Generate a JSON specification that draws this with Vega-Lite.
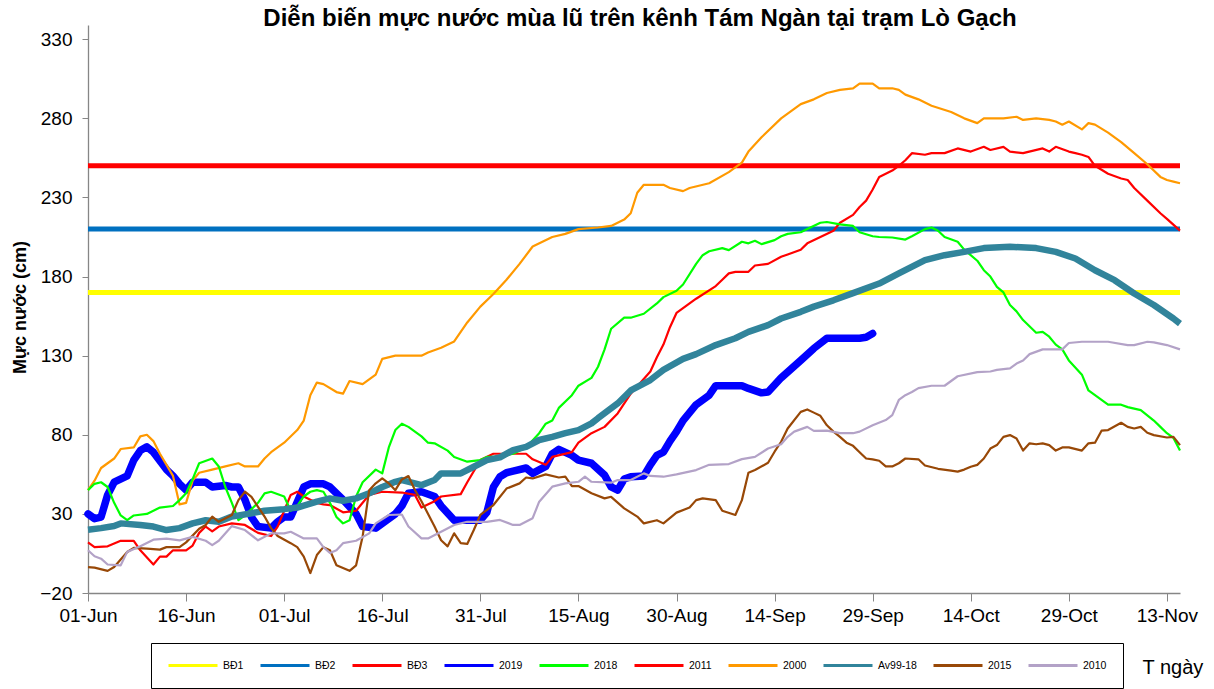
{
"$schema": "https://vega.github.io/schema/vega-lite/v6.json",
"width": 1092, "height": 568,
"autosize": {"type": "none"},
"padding": {"left": 88, "top": 25, "right": 34, "bottom": 96},
"background": "white",
"title": {"text": "Diễn biến mực nước mùa lũ trên kênh Tám Ngàn tại trạm Lò Gạch", "fontSize": 24, "fontWeight": "bold", "font": "Liberation Sans", "color": "black", "anchor": "middle", "dx": 6, "dy": 23, "baseline": "alphabetic", "offset": -2},
"config": {"view": {"stroke": null}},
"data": {"values": [
{"s":"BĐ1","t":"2019-06-01","v":170},{"s":"BĐ1","t":"2019-11-15","v":170},
{"s":"BĐ2","t":"2019-06-01","v":210},{"s":"BĐ2","t":"2019-11-15","v":210},
{"s":"BĐ3","t":"2019-06-01","v":250},{"s":"BĐ3","t":"2019-11-15","v":250},
{"s":"2000","t":"2019-06-01","v":45},{"s":"2000","t":"2019-06-02","v":51},{"s":"2000","t":"2019-06-03","v":59},{"s":"2000","t":"2019-06-05","v":65},{"s":"2000","t":"2019-06-06","v":71},{"s":"2000","t":"2019-06-08","v":72},{"s":"2000","t":"2019-06-09","v":79},{"s":"2000","t":"2019-06-10","v":80},{"s":"2000","t":"2019-06-11","v":76},{"s":"2000","t":"2019-06-12","v":68},{"s":"2000","t":"2019-06-14","v":54},{"s":"2000","t":"2019-06-15","v":36},{"s":"2000","t":"2019-06-16","v":37},{"s":"2000","t":"2019-06-17","v":51},{"s":"2000","t":"2019-06-18","v":56},{"s":"2000","t":"2019-06-20","v":58},{"s":"2000","t":"2019-06-22","v":60},{"s":"2000","t":"2019-06-24","v":62},{"s":"2000","t":"2019-06-25","v":60},{"s":"2000","t":"2019-06-27","v":60},{"s":"2000","t":"2019-06-28","v":65},{"s":"2000","t":"2019-06-29","v":69},{"s":"2000","t":"2019-07-01","v":75},{"s":"2000","t":"2019-07-03","v":83},{"s":"2000","t":"2019-07-04","v":89},{"s":"2000","t":"2019-07-05","v":105},{"s":"2000","t":"2019-07-06","v":113},{"s":"2000","t":"2019-07-07","v":112},{"s":"2000","t":"2019-07-09","v":107},{"s":"2000","t":"2019-07-10","v":106},{"s":"2000","t":"2019-07-11","v":114},{"s":"2000","t":"2019-07-13","v":112},{"s":"2000","t":"2019-07-15","v":118},{"s":"2000","t":"2019-07-16","v":128},{"s":"2000","t":"2019-07-18","v":130},{"s":"2000","t":"2019-07-22","v":130},{"s":"2000","t":"2019-07-23","v":132},{"s":"2000","t":"2019-07-25","v":135},{"s":"2000","t":"2019-07-27","v":139},{"s":"2000","t":"2019-07-29","v":151},{"s":"2000","t":"2019-07-31","v":161},{"s":"2000","t":"2019-08-02","v":169},{"s":"2000","t":"2019-08-04","v":178},{"s":"2000","t":"2019-08-06","v":188},{"s":"2000","t":"2019-08-08","v":199},{"s":"2000","t":"2019-08-11","v":205},{"s":"2000","t":"2019-08-13","v":207},{"s":"2000","t":"2019-08-15","v":210},{"s":"2000","t":"2019-08-18","v":211},{"s":"2000","t":"2019-08-20","v":212},{"s":"2000","t":"2019-08-22","v":216},{"s":"2000","t":"2019-08-23","v":220},{"s":"2000","t":"2019-08-24","v":233},{"s":"2000","t":"2019-08-25","v":238},{"s":"2000","t":"2019-08-28","v":238},{"s":"2000","t":"2019-08-29","v":236},{"s":"2000","t":"2019-08-31","v":234},{"s":"2000","t":"2019-09-01","v":236},{"s":"2000","t":"2019-09-04","v":239},{"s":"2000","t":"2019-09-07","v":246},{"s":"2000","t":"2019-09-09","v":252},{"s":"2000","t":"2019-09-10","v":259},{"s":"2000","t":"2019-09-12","v":268},{"s":"2000","t":"2019-09-15","v":280},{"s":"2000","t":"2019-09-18","v":289},{"s":"2000","t":"2019-09-20","v":292},{"s":"2000","t":"2019-09-22","v":296},{"s":"2000","t":"2019-09-24","v":298},{"s":"2000","t":"2019-09-26","v":299},{"s":"2000","t":"2019-09-27","v":302},{"s":"2000","t":"2019-09-29","v":302},{"s":"2000","t":"2019-09-30","v":299},{"s":"2000","t":"2019-10-02","v":299},{"s":"2000","t":"2019-10-03","v":298},{"s":"2000","t":"2019-10-04","v":295},{"s":"2000","t":"2019-10-06","v":292},{"s":"2000","t":"2019-10-08","v":288},{"s":"2000","t":"2019-10-11","v":284},{"s":"2000","t":"2019-10-13","v":280},{"s":"2000","t":"2019-10-15","v":277},{"s":"2000","t":"2019-10-16","v":280},{"s":"2000","t":"2019-10-19","v":280},{"s":"2000","t":"2019-10-21","v":281},{"s":"2000","t":"2019-10-22","v":279},{"s":"2000","t":"2019-10-24","v":280},{"s":"2000","t":"2019-10-26","v":279},{"s":"2000","t":"2019-10-27","v":278},{"s":"2000","t":"2019-10-28","v":276},{"s":"2000","t":"2019-10-29","v":278},{"s":"2000","t":"2019-10-31","v":273},{"s":"2000","t":"2019-11-01","v":277},{"s":"2000","t":"2019-11-02","v":276},{"s":"2000","t":"2019-11-04","v":271},{"s":"2000","t":"2019-11-06","v":265},{"s":"2000","t":"2019-11-08","v":258},{"s":"2000","t":"2019-11-10","v":251},{"s":"2000","t":"2019-11-12","v":243},{"s":"2000","t":"2019-11-13","v":241},{"s":"2000","t":"2019-11-14","v":240},{"s":"2000","t":"2019-11-15","v":239},
{"s":"2011","t":"2019-06-01","v":12},{"s":"2011","t":"2019-06-02","v":9},{"s":"2011","t":"2019-06-04","v":9.5},{"s":"2011","t":"2019-06-06","v":13},{"s":"2011","t":"2019-06-08","v":13},{"s":"2011","t":"2019-06-09","v":7},{"s":"2011","t":"2019-06-11","v":-2},{"s":"2011","t":"2019-06-12","v":3},{"s":"2011","t":"2019-06-13","v":3},{"s":"2011","t":"2019-06-14","v":7},{"s":"2011","t":"2019-06-16","v":7},{"s":"2011","t":"2019-06-17","v":10},{"s":"2011","t":"2019-06-18","v":18},{"s":"2011","t":"2019-06-19","v":22},{"s":"2011","t":"2019-06-20","v":19},{"s":"2011","t":"2019-06-21","v":22},{"s":"2011","t":"2019-06-23","v":24},{"s":"2011","t":"2019-06-25","v":23},{"s":"2011","t":"2019-06-27","v":18},{"s":"2011","t":"2019-06-29","v":16},{"s":"2011","t":"2019-06-30","v":22},{"s":"2011","t":"2019-07-02","v":42},{"s":"2011","t":"2019-07-03","v":44},{"s":"2011","t":"2019-07-04","v":41},{"s":"2011","t":"2019-07-05","v":39},{"s":"2011","t":"2019-07-06","v":37},{"s":"2011","t":"2019-07-07","v":36},{"s":"2011","t":"2019-07-08","v":35.6},{"s":"2011","t":"2019-07-10","v":31},{"s":"2011","t":"2019-07-12","v":32},{"s":"2011","t":"2019-07-13","v":37},{"s":"2011","t":"2019-07-14","v":42},{"s":"2011","t":"2019-07-16","v":44},{"s":"2011","t":"2019-07-19","v":43.5},{"s":"2011","t":"2019-07-21","v":42},{"s":"2011","t":"2019-07-22","v":34},{"s":"2011","t":"2019-07-24","v":38},{"s":"2011","t":"2019-07-25","v":41},{"s":"2011","t":"2019-07-28","v":42.5},{"s":"2011","t":"2019-07-29","v":50},{"s":"2011","t":"2019-07-31","v":64},{"s":"2011","t":"2019-08-02","v":68},{"s":"2011","t":"2019-08-04","v":68},{"s":"2011","t":"2019-08-07","v":68},{"s":"2011","t":"2019-08-08","v":64.5},{"s":"2011","t":"2019-08-10","v":61},{"s":"2011","t":"2019-08-11","v":66},{"s":"2011","t":"2019-08-14","v":69},{"s":"2011","t":"2019-08-15","v":75},{"s":"2011","t":"2019-08-17","v":81},{"s":"2011","t":"2019-08-19","v":85},{"s":"2011","t":"2019-08-21","v":93.5},{"s":"2011","t":"2019-08-23","v":106},{"s":"2011","t":"2019-08-26","v":120},{"s":"2011","t":"2019-08-27","v":129},{"s":"2011","t":"2019-08-28","v":137},{"s":"2011","t":"2019-08-29","v":148},{"s":"2011","t":"2019-08-30","v":157},{"s":"2011","t":"2019-09-01","v":163},{"s":"2011","t":"2019-09-02","v":166},{"s":"2011","t":"2019-09-05","v":174},{"s":"2011","t":"2019-09-06","v":178},{"s":"2011","t":"2019-09-07","v":182},{"s":"2011","t":"2019-09-08","v":183},{"s":"2011","t":"2019-09-10","v":183},{"s":"2011","t":"2019-09-11","v":187},{"s":"2011","t":"2019-09-13","v":188},{"s":"2011","t":"2019-09-15","v":192.5},{"s":"2011","t":"2019-09-16","v":194},{"s":"2011","t":"2019-09-18","v":197},{"s":"2011","t":"2019-09-19","v":201},{"s":"2011","t":"2019-09-21","v":205},{"s":"2011","t":"2019-09-23","v":209},{"s":"2011","t":"2019-09-24","v":214},{"s":"2011","t":"2019-09-26","v":219},{"s":"2011","t":"2019-09-27","v":224},{"s":"2011","t":"2019-09-28","v":228},{"s":"2011","t":"2019-09-29","v":235},{"s":"2011","t":"2019-09-30","v":243},{"s":"2011","t":"2019-10-02","v":247},{"s":"2011","t":"2019-10-03","v":250},{"s":"2011","t":"2019-10-04","v":253.5},{"s":"2011","t":"2019-10-05","v":258},{"s":"2011","t":"2019-10-07","v":257},{"s":"2011","t":"2019-10-08","v":258},{"s":"2011","t":"2019-10-10","v":258},{"s":"2011","t":"2019-10-12","v":261},{"s":"2011","t":"2019-10-14","v":259},{"s":"2011","t":"2019-10-16","v":262},{"s":"2011","t":"2019-10-17","v":260},{"s":"2011","t":"2019-10-19","v":262},{"s":"2011","t":"2019-10-20","v":259},{"s":"2011","t":"2019-10-22","v":258},{"s":"2011","t":"2019-10-25","v":261},{"s":"2011","t":"2019-10-26","v":259},{"s":"2011","t":"2019-10-27","v":262},{"s":"2011","t":"2019-10-29","v":259},{"s":"2011","t":"2019-10-30","v":258},{"s":"2011","t":"2019-10-31","v":257},{"s":"2011","t":"2019-11-01","v":255.6},{"s":"2011","t":"2019-11-02","v":250},{"s":"2011","t":"2019-11-04","v":245},{"s":"2011","t":"2019-11-06","v":242},{"s":"2011","t":"2019-11-07","v":241},{"s":"2011","t":"2019-11-08","v":236},{"s":"2011","t":"2019-11-10","v":228},{"s":"2011","t":"2019-11-12","v":220},{"s":"2011","t":"2019-11-13","v":216.5},{"s":"2011","t":"2019-11-15","v":209},
{"s":"2018","t":"2019-06-01","v":45},{"s":"2018","t":"2019-06-02","v":49},{"s":"2018","t":"2019-06-03","v":50},{"s":"2018","t":"2019-06-04","v":47},{"s":"2018","t":"2019-06-05","v":37},{"s":"2018","t":"2019-06-06","v":29},{"s":"2018","t":"2019-06-07","v":26},{"s":"2018","t":"2019-06-08","v":29},{"s":"2018","t":"2019-06-10","v":30},{"s":"2018","t":"2019-06-12","v":34},{"s":"2018","t":"2019-06-14","v":35},{"s":"2018","t":"2019-06-15","v":38.7},{"s":"2018","t":"2019-06-16","v":43},{"s":"2018","t":"2019-06-17","v":52},{"s":"2018","t":"2019-06-18","v":62},{"s":"2018","t":"2019-06-20","v":65},{"s":"2018","t":"2019-06-21","v":60},{"s":"2018","t":"2019-06-22","v":47},{"s":"2018","t":"2019-06-23","v":37},{"s":"2018","t":"2019-06-24","v":26},{"s":"2018","t":"2019-06-25","v":29},{"s":"2018","t":"2019-06-27","v":37},{"s":"2018","t":"2019-06-28","v":43},{"s":"2018","t":"2019-06-29","v":44},{"s":"2018","t":"2019-07-01","v":41},{"s":"2018","t":"2019-07-02","v":32},{"s":"2018","t":"2019-07-03","v":35},{"s":"2018","t":"2019-07-04","v":41},{"s":"2018","t":"2019-07-05","v":44},{"s":"2018","t":"2019-07-06","v":45},{"s":"2018","t":"2019-07-07","v":44},{"s":"2018","t":"2019-07-08","v":37},{"s":"2018","t":"2019-07-09","v":28},{"s":"2018","t":"2019-07-10","v":24},{"s":"2018","t":"2019-07-11","v":26},{"s":"2018","t":"2019-07-12","v":41},{"s":"2018","t":"2019-07-13","v":50},{"s":"2018","t":"2019-07-15","v":58},{"s":"2018","t":"2019-07-16","v":55.6},{"s":"2018","t":"2019-07-17","v":72},{"s":"2018","t":"2019-07-18","v":83},{"s":"2018","t":"2019-07-19","v":87},{"s":"2018","t":"2019-07-20","v":85},{"s":"2018","t":"2019-07-22","v":79},{"s":"2018","t":"2019-07-23","v":75},{"s":"2018","t":"2019-07-24","v":74.6},{"s":"2018","t":"2019-07-26","v":70},{"s":"2018","t":"2019-07-27","v":66},{"s":"2018","t":"2019-07-29","v":63},{"s":"2018","t":"2019-07-31","v":64},{"s":"2018","t":"2019-08-01","v":66},{"s":"2018","t":"2019-08-03","v":66},{"s":"2018","t":"2019-08-05","v":68},{"s":"2018","t":"2019-08-07","v":72},{"s":"2018","t":"2019-08-09","v":81},{"s":"2018","t":"2019-08-10","v":87},{"s":"2018","t":"2019-08-11","v":89},{"s":"2018","t":"2019-08-12","v":97},{"s":"2018","t":"2019-08-14","v":105},{"s":"2018","t":"2019-08-15","v":111},{"s":"2018","t":"2019-08-17","v":116},{"s":"2018","t":"2019-08-18","v":123},{"s":"2018","t":"2019-08-19","v":134},{"s":"2018","t":"2019-08-20","v":147},{"s":"2018","t":"2019-08-22","v":154},{"s":"2018","t":"2019-08-23","v":154},{"s":"2018","t":"2019-08-25","v":156.5},{"s":"2018","t":"2019-08-27","v":163},{"s":"2018","t":"2019-08-28","v":167},{"s":"2018","t":"2019-08-30","v":171},{"s":"2018","t":"2019-08-31","v":175},{"s":"2018","t":"2019-09-02","v":188},{"s":"2018","t":"2019-09-03","v":193.5},{"s":"2018","t":"2019-09-04","v":196},{"s":"2018","t":"2019-09-06","v":198},{"s":"2018","t":"2019-09-07","v":196.7},{"s":"2018","t":"2019-09-09","v":202},{"s":"2018","t":"2019-09-10","v":201},{"s":"2018","t":"2019-09-11","v":202.6},{"s":"2018","t":"2019-09-12","v":200.5},{"s":"2018","t":"2019-09-14","v":203},{"s":"2018","t":"2019-09-15","v":205.5},{"s":"2018","t":"2019-09-16","v":207},{"s":"2018","t":"2019-09-18","v":208},{"s":"2018","t":"2019-09-19","v":210},{"s":"2018","t":"2019-09-21","v":214},{"s":"2018","t":"2019-09-22","v":214.5},{"s":"2018","t":"2019-09-24","v":213},{"s":"2018","t":"2019-09-26","v":212},{"s":"2018","t":"2019-09-27","v":208},{"s":"2018","t":"2019-09-29","v":205.5},{"s":"2018","t":"2019-09-30","v":205},{"s":"2018","t":"2019-10-02","v":204.7},{"s":"2018","t":"2019-10-04","v":203.4},{"s":"2018","t":"2019-10-05","v":205.5},{"s":"2018","t":"2019-10-07","v":210},{"s":"2018","t":"2019-10-08","v":211},{"s":"2018","t":"2019-10-09","v":209},{"s":"2018","t":"2019-10-10","v":205},{"s":"2018","t":"2019-10-12","v":202},{"s":"2018","t":"2019-10-13","v":197},{"s":"2018","t":"2019-10-15","v":190},{"s":"2018","t":"2019-10-16","v":184},{"s":"2018","t":"2019-10-17","v":180},{"s":"2018","t":"2019-10-18","v":173.5},{"s":"2018","t":"2019-10-19","v":170},{"s":"2018","t":"2019-10-20","v":162},{"s":"2018","t":"2019-10-21","v":158},{"s":"2018","t":"2019-10-22","v":152.5},{"s":"2018","t":"2019-10-24","v":144.5},{"s":"2018","t":"2019-10-25","v":145},{"s":"2018","t":"2019-10-26","v":142},{"s":"2018","t":"2019-10-27","v":137},{"s":"2018","t":"2019-10-28","v":134},{"s":"2018","t":"2019-10-29","v":127},{"s":"2018","t":"2019-10-31","v":118},{"s":"2018","t":"2019-11-01","v":108},{"s":"2018","t":"2019-11-03","v":102},{"s":"2018","t":"2019-11-04","v":99},{"s":"2018","t":"2019-11-06","v":99},{"s":"2018","t":"2019-11-07","v":97.5},{"s":"2018","t":"2019-11-09","v":95.6},{"s":"2018","t":"2019-11-11","v":89},{"s":"2018","t":"2019-11-12","v":85},{"s":"2018","t":"2019-11-13","v":81},{"s":"2018","t":"2019-11-14","v":78},{"s":"2018","t":"2019-11-15","v":70},
{"s":"2019","t":"2019-06-01","v":30},{"s":"2019","t":"2019-06-02","v":27},{"s":"2019","t":"2019-06-03","v":28},{"s":"2019","t":"2019-06-04","v":42},{"s":"2019","t":"2019-06-05","v":50},{"s":"2019","t":"2019-06-07","v":54},{"s":"2019","t":"2019-06-08","v":64},{"s":"2019","t":"2019-06-09","v":70},{"s":"2019","t":"2019-06-10","v":72.4},{"s":"2019","t":"2019-06-11","v":69},{"s":"2019","t":"2019-06-13","v":58},{"s":"2019","t":"2019-06-14","v":54},{"s":"2019","t":"2019-06-15","v":49},{"s":"2019","t":"2019-06-16","v":45},{"s":"2019","t":"2019-06-17","v":50},{"s":"2019","t":"2019-06-19","v":50},{"s":"2019","t":"2019-06-20","v":47},{"s":"2019","t":"2019-06-22","v":48},{"s":"2019","t":"2019-06-23","v":47},{"s":"2019","t":"2019-06-24","v":47},{"s":"2019","t":"2019-06-25","v":39},{"s":"2019","t":"2019-06-26","v":28},{"s":"2019","t":"2019-06-27","v":22},{"s":"2019","t":"2019-06-29","v":21},{"s":"2019","t":"2019-06-30","v":25},{"s":"2019","t":"2019-07-01","v":28},{"s":"2019","t":"2019-07-02","v":28},{"s":"2019","t":"2019-07-04","v":47},{"s":"2019","t":"2019-07-05","v":49},{"s":"2019","t":"2019-07-07","v":49},{"s":"2019","t":"2019-07-08","v":47},{"s":"2019","t":"2019-07-10","v":39},{"s":"2019","t":"2019-07-12","v":30},{"s":"2019","t":"2019-07-13","v":22},{"s":"2019","t":"2019-07-15","v":21},{"s":"2019","t":"2019-07-16","v":24},{"s":"2019","t":"2019-07-18","v":30},{"s":"2019","t":"2019-07-19","v":35},{"s":"2019","t":"2019-07-20","v":43},{"s":"2019","t":"2019-07-22","v":44},{"s":"2019","t":"2019-07-24","v":41},{"s":"2019","t":"2019-07-25","v":35},{"s":"2019","t":"2019-07-27","v":26},{"s":"2019","t":"2019-07-29","v":26},{"s":"2019","t":"2019-07-31","v":26},{"s":"2019","t":"2019-08-01","v":31},{"s":"2019","t":"2019-08-02","v":47},{"s":"2019","t":"2019-08-03","v":53.5},{"s":"2019","t":"2019-08-04","v":56},{"s":"2019","t":"2019-08-05","v":57},{"s":"2019","t":"2019-08-07","v":59},{"s":"2019","t":"2019-08-08","v":55.6},{"s":"2019","t":"2019-08-10","v":60},{"s":"2019","t":"2019-08-11","v":68},{"s":"2019","t":"2019-08-12","v":70.8},{"s":"2019","t":"2019-08-14","v":67},{"s":"2019","t":"2019-08-15","v":64},{"s":"2019","t":"2019-08-17","v":62},{"s":"2019","t":"2019-08-19","v":54.5},{"s":"2019","t":"2019-08-20","v":47},{"s":"2019","t":"2019-08-21","v":45},{"s":"2019","t":"2019-08-22","v":52},{"s":"2019","t":"2019-08-23","v":53.5},{"s":"2019","t":"2019-08-25","v":54},{"s":"2019","t":"2019-08-26","v":61},{"s":"2019","t":"2019-08-27","v":67},{"s":"2019","t":"2019-08-28","v":69},{"s":"2019","t":"2019-08-29","v":76},{"s":"2019","t":"2019-08-30","v":82},{"s":"2019","t":"2019-08-31","v":89},{"s":"2019","t":"2019-09-01","v":94},{"s":"2019","t":"2019-09-02","v":99},{"s":"2019","t":"2019-09-04","v":105},{"s":"2019","t":"2019-09-05","v":111},{"s":"2019","t":"2019-09-09","v":111},{"s":"2019","t":"2019-09-10","v":109.3},{"s":"2019","t":"2019-09-12","v":106.5},{"s":"2019","t":"2019-09-13","v":107},{"s":"2019","t":"2019-09-15","v":116},{"s":"2019","t":"2019-09-18","v":127},{"s":"2019","t":"2019-09-20","v":134.6},{"s":"2019","t":"2019-09-22","v":141},{"s":"2019","t":"2019-09-25","v":141},{"s":"2019","t":"2019-09-27","v":141},{"s":"2019","t":"2019-09-28","v":141.6},{"s":"2019","t":"2019-09-29","v":144},
{"s":"Av99-18","t":"2019-06-01","v":20},{"s":"Av99-18","t":"2019-06-03","v":21},{"s":"Av99-18","t":"2019-06-05","v":22.3},{"s":"Av99-18","t":"2019-06-06","v":24},{"s":"Av99-18","t":"2019-06-09","v":23},{"s":"Av99-18","t":"2019-06-11","v":22},{"s":"Av99-18","t":"2019-06-13","v":19.8},{"s":"Av99-18","t":"2019-06-15","v":21},{"s":"Av99-18","t":"2019-06-17","v":24},{"s":"Av99-18","t":"2019-06-19","v":26},{"s":"Av99-18","t":"2019-06-21","v":25},{"s":"Av99-18","t":"2019-06-23","v":28.3},{"s":"Av99-18","t":"2019-06-26","v":30.4},{"s":"Av99-18","t":"2019-06-28","v":32},{"s":"Av99-18","t":"2019-07-01","v":33},{"s":"Av99-18","t":"2019-07-03","v":34},{"s":"Av99-18","t":"2019-07-06","v":37.7},{"s":"Av99-18","t":"2019-07-08","v":39.8},{"s":"Av99-18","t":"2019-07-10","v":38.3},{"s":"Av99-18","t":"2019-07-12","v":39.8},{"s":"Av99-18","t":"2019-07-14","v":43},{"s":"Av99-18","t":"2019-07-16","v":47},{"s":"Av99-18","t":"2019-07-18","v":50.3},{"s":"Av99-18","t":"2019-07-19","v":51.4},{"s":"Av99-18","t":"2019-07-21","v":49.3},{"s":"Av99-18","t":"2019-07-22","v":48.2},{"s":"Av99-18","t":"2019-07-24","v":51.4},{"s":"Av99-18","t":"2019-07-25","v":55.6},{"s":"Av99-18","t":"2019-07-28","v":55.6},{"s":"Av99-18","t":"2019-07-30","v":59.8},{"s":"Av99-18","t":"2019-08-01","v":64},{"s":"Av99-18","t":"2019-08-03","v":65.7},{"s":"Av99-18","t":"2019-08-05","v":70.3},{"s":"Av99-18","t":"2019-08-07","v":72.4},{"s":"Av99-18","t":"2019-08-09","v":76.7},{"s":"Av99-18","t":"2019-08-11","v":78.7},{"s":"Av99-18","t":"2019-08-13","v":81},{"s":"Av99-18","t":"2019-08-15","v":83},{"s":"Av99-18","t":"2019-08-17","v":87.2},{"s":"Av99-18","t":"2019-08-18","v":90.5},{"s":"Av99-18","t":"2019-08-21","v":99.8},{"s":"Av99-18","t":"2019-08-23","v":108},{"s":"Av99-18","t":"2019-08-26","v":114.6},{"s":"Av99-18","t":"2019-08-28","v":121},{"s":"Av99-18","t":"2019-08-31","v":128},{"s":"Av99-18","t":"2019-09-02","v":131},{"s":"Av99-18","t":"2019-09-05","v":136.7},{"s":"Av99-18","t":"2019-09-08","v":141},{"s":"Av99-18","t":"2019-09-10","v":145},{"s":"Av99-18","t":"2019-09-13","v":149.3},{"s":"Av99-18","t":"2019-09-15","v":153.5},{"s":"Av99-18","t":"2019-09-18","v":157.7},{"s":"Av99-18","t":"2019-09-20","v":161},{"s":"Av99-18","t":"2019-09-23","v":165},{"s":"Av99-18","t":"2019-09-26","v":169.5},{"s":"Av99-18","t":"2019-09-30","v":175.6},{"s":"Av99-18","t":"2019-10-03","v":182},{"s":"Av99-18","t":"2019-10-07","v":190.4},{"s":"Av99-18","t":"2019-10-10","v":193.5},{"s":"Av99-18","t":"2019-10-13","v":195.6},{"s":"Av99-18","t":"2019-10-16","v":198},{"s":"Av99-18","t":"2019-10-20","v":198.8},{"s":"Av99-18","t":"2019-10-24","v":198},{"s":"Av99-18","t":"2019-10-27","v":195.6},{"s":"Av99-18","t":"2019-10-30","v":191.4},{"s":"Av99-18","t":"2019-11-02","v":184},{"s":"Av99-18","t":"2019-11-05","v":177.7},{"s":"Av99-18","t":"2019-11-08","v":169.3},{"s":"Av99-18","t":"2019-11-11","v":162},{"s":"Av99-18","t":"2019-11-14","v":153.5},{"s":"Av99-18","t":"2019-11-15","v":150.3},
{"s":"2015","t":"2019-06-01","v":-3.6},{"s":"2015","t":"2019-06-02","v":-4},{"s":"2015","t":"2019-06-04","v":-6},{"s":"2015","t":"2019-06-05","v":-3.6},{"s":"2015","t":"2019-06-07","v":5.9},{"s":"2015","t":"2019-06-08","v":8.5},{"s":"2015","t":"2019-06-10","v":8},{"s":"2015","t":"2019-06-12","v":7.4},{"s":"2015","t":"2019-06-13","v":9},{"s":"2015","t":"2019-06-15","v":9},{"s":"2015","t":"2019-06-16","v":12},{"s":"2015","t":"2019-06-18","v":20.6},{"s":"2015","t":"2019-06-19","v":23},{"s":"2015","t":"2019-06-20","v":28.3},{"s":"2015","t":"2019-06-21","v":25},{"s":"2015","t":"2019-06-23","v":29.3},{"s":"2015","t":"2019-06-24","v":38.7},{"s":"2015","t":"2019-06-25","v":44},{"s":"2015","t":"2019-06-26","v":40.8},{"s":"2015","t":"2019-06-27","v":34.5},{"s":"2015","t":"2019-06-28","v":28.3},{"s":"2015","t":"2019-06-29","v":21},{"s":"2015","t":"2019-06-30","v":16},{"s":"2015","t":"2019-07-02","v":11.5},{"s":"2015","t":"2019-07-03","v":9},{"s":"2015","t":"2019-07-04","v":3},{"s":"2015","t":"2019-07-05","v":-7.4},{"s":"2015","t":"2019-07-06","v":4},{"s":"2015","t":"2019-07-07","v":9},{"s":"2015","t":"2019-07-08","v":7},{"s":"2015","t":"2019-07-09","v":-2.5},{"s":"2015","t":"2019-07-11","v":-6},{"s":"2015","t":"2019-07-12","v":-2.5},{"s":"2015","t":"2019-07-13","v":15.7},{"s":"2015","t":"2019-07-14","v":45},{"s":"2015","t":"2019-07-15","v":49.3},{"s":"2015","t":"2019-07-16","v":52.4},{"s":"2015","t":"2019-07-17","v":49.3},{"s":"2015","t":"2019-07-18","v":45},{"s":"2015","t":"2019-07-19","v":51.8},{"s":"2015","t":"2019-07-20","v":53.9},{"s":"2015","t":"2019-07-21","v":45},{"s":"2015","t":"2019-07-22","v":38},{"s":"2015","t":"2019-07-24","v":22},{"s":"2015","t":"2019-07-25","v":13.3},{"s":"2015","t":"2019-07-26","v":9.5},{"s":"2015","t":"2019-07-27","v":17.7},{"s":"2015","t":"2019-07-28","v":11.5},{"s":"2015","t":"2019-07-29","v":11},{"s":"2015","t":"2019-07-30","v":19.8},{"s":"2015","t":"2019-07-31","v":29.3},{"s":"2015","t":"2019-08-02","v":35.6},{"s":"2015","t":"2019-08-04","v":46},{"s":"2015","t":"2019-08-06","v":49.3},{"s":"2015","t":"2019-08-07","v":53},{"s":"2015","t":"2019-08-08","v":52.4},{"s":"2015","t":"2019-08-10","v":55},{"s":"2015","t":"2019-08-12","v":53},{"s":"2015","t":"2019-08-13","v":53.5},{"s":"2015","t":"2019-08-14","v":47.6},{"s":"2015","t":"2019-08-15","v":47.6},{"s":"2015","t":"2019-08-17","v":43},{"s":"2015","t":"2019-08-19","v":39.8},{"s":"2015","t":"2019-08-20","v":40.8},{"s":"2015","t":"2019-08-22","v":33.5},{"s":"2015","t":"2019-08-24","v":28.3},{"s":"2015","t":"2019-08-25","v":24},{"s":"2015","t":"2019-08-27","v":26},{"s":"2015","t":"2019-08-28","v":24},{"s":"2015","t":"2019-08-30","v":30.8},{"s":"2015","t":"2019-09-01","v":34},{"s":"2015","t":"2019-09-02","v":38.7},{"s":"2015","t":"2019-09-03","v":39.8},{"s":"2015","t":"2019-09-05","v":38.7},{"s":"2015","t":"2019-09-06","v":32},{"s":"2015","t":"2019-09-08","v":29.3},{"s":"2015","t":"2019-09-09","v":38.7},{"s":"2015","t":"2019-09-10","v":56},{"s":"2015","t":"2019-09-11","v":57.7},{"s":"2015","t":"2019-09-13","v":62.3},{"s":"2015","t":"2019-09-14","v":69.3},{"s":"2015","t":"2019-09-15","v":75.6},{"s":"2015","t":"2019-09-16","v":84},{"s":"2015","t":"2019-09-18","v":94.5},{"s":"2015","t":"2019-09-19","v":96},{"s":"2015","t":"2019-09-20","v":94},{"s":"2015","t":"2019-09-21","v":92},{"s":"2015","t":"2019-09-22","v":86},{"s":"2015","t":"2019-09-23","v":82},{"s":"2015","t":"2019-09-24","v":78.7},{"s":"2015","t":"2019-09-25","v":75},{"s":"2015","t":"2019-09-26","v":73},{"s":"2015","t":"2019-09-27","v":69},{"s":"2015","t":"2019-09-28","v":65},{"s":"2015","t":"2019-09-29","v":64.5},{"s":"2015","t":"2019-09-30","v":63.6},{"s":"2015","t":"2019-10-01","v":60},{"s":"2015","t":"2019-10-02","v":60},{"s":"2015","t":"2019-10-03","v":62},{"s":"2015","t":"2019-10-04","v":65},{"s":"2015","t":"2019-10-06","v":64.5},{"s":"2015","t":"2019-10-07","v":60.6},{"s":"2015","t":"2019-10-09","v":58.5},{"s":"2015","t":"2019-10-11","v":57.3},{"s":"2015","t":"2019-10-12","v":56.7},{"s":"2015","t":"2019-10-13","v":58},{"s":"2015","t":"2019-10-14","v":59.8},{"s":"2015","t":"2019-10-15","v":61},{"s":"2015","t":"2019-10-16","v":65},{"s":"2015","t":"2019-10-17","v":71.3},{"s":"2015","t":"2019-10-18","v":73.5},{"s":"2015","t":"2019-10-19","v":78.7},{"s":"2015","t":"2019-10-20","v":79.8},{"s":"2015","t":"2019-10-21","v":77.7},{"s":"2015","t":"2019-10-22","v":70},{"s":"2015","t":"2019-10-23","v":74.6},{"s":"2015","t":"2019-10-24","v":74},{"s":"2015","t":"2019-10-25","v":74.6},{"s":"2015","t":"2019-10-26","v":73.5},{"s":"2015","t":"2019-10-27","v":70},{"s":"2015","t":"2019-10-28","v":72},{"s":"2015","t":"2019-10-29","v":72},{"s":"2015","t":"2019-10-31","v":70},{"s":"2015","t":"2019-11-01","v":74.6},{"s":"2015","t":"2019-11-02","v":75},{"s":"2015","t":"2019-11-03","v":82.6},{"s":"2015","t":"2019-11-04","v":83},{"s":"2015","t":"2019-11-06","v":87.6},{"s":"2015","t":"2019-11-07","v":85},{"s":"2015","t":"2019-11-08","v":84},{"s":"2015","t":"2019-11-09","v":85},{"s":"2015","t":"2019-11-10","v":81.3},{"s":"2015","t":"2019-11-11","v":79.8},{"s":"2015","t":"2019-11-13","v":78.3},{"s":"2015","t":"2019-11-14","v":78.7},{"s":"2015","t":"2019-11-15","v":73.5},
{"s":"2010","t":"2019-06-01","v":7},{"s":"2010","t":"2019-06-02","v":3.2},{"s":"2010","t":"2019-06-03","v":1.7},{"s":"2010","t":"2019-06-04","v":-2},{"s":"2010","t":"2019-06-06","v":-2.5},{"s":"2010","t":"2019-06-07","v":6},{"s":"2010","t":"2019-06-09","v":9.5},{"s":"2010","t":"2019-06-11","v":13.7},{"s":"2010","t":"2019-06-13","v":14.4},{"s":"2010","t":"2019-06-15","v":13.3},{"s":"2010","t":"2019-06-17","v":15.5},{"s":"2010","t":"2019-06-19","v":13},{"s":"2010","t":"2019-06-20","v":10.3},{"s":"2010","t":"2019-06-21","v":13},{"s":"2010","t":"2019-06-23","v":22.3},{"s":"2010","t":"2019-06-25","v":19.8},{"s":"2010","t":"2019-06-27","v":13.3},{"s":"2010","t":"2019-06-29","v":17.7},{"s":"2010","t":"2019-07-01","v":17.7},{"s":"2010","t":"2019-07-02","v":18.7},{"s":"2010","t":"2019-07-04","v":14.5},{"s":"2010","t":"2019-07-06","v":14.5},{"s":"2010","t":"2019-07-07","v":9},{"s":"2010","t":"2019-07-08","v":5.3},{"s":"2010","t":"2019-07-09","v":7},{"s":"2010","t":"2019-07-10","v":11.5},{"s":"2010","t":"2019-07-12","v":13},{"s":"2010","t":"2019-07-14","v":17.7},{"s":"2010","t":"2019-07-15","v":24},{"s":"2010","t":"2019-07-17","v":29.3},{"s":"2010","t":"2019-07-19","v":29.6},{"s":"2010","t":"2019-07-20","v":22},{"s":"2010","t":"2019-07-22","v":14.5},{"s":"2010","t":"2019-07-23","v":14.5},{"s":"2010","t":"2019-07-25","v":18.7},{"s":"2010","t":"2019-07-27","v":23},{"s":"2010","t":"2019-07-29","v":25},{"s":"2010","t":"2019-08-01","v":25},{"s":"2010","t":"2019-08-03","v":26.2},{"s":"2010","t":"2019-08-05","v":23},{"s":"2010","t":"2019-08-06","v":23},{"s":"2010","t":"2019-08-08","v":27.3},{"s":"2010","t":"2019-08-09","v":37.7},{"s":"2010","t":"2019-08-11","v":47.2},{"s":"2010","t":"2019-08-13","v":49.3},{"s":"2010","t":"2019-08-15","v":50.3},{"s":"2010","t":"2019-08-16","v":53.5},{"s":"2010","t":"2019-08-17","v":50.3},{"s":"2010","t":"2019-08-20","v":49.7},{"s":"2010","t":"2019-08-21","v":51.4},{"s":"2010","t":"2019-08-23","v":51.4},{"s":"2010","t":"2019-08-25","v":55.6},{"s":"2010","t":"2019-08-26","v":54},{"s":"2010","t":"2019-08-28","v":53.5},{"s":"2010","t":"2019-08-30","v":55},{"s":"2010","t":"2019-09-02","v":57.7},{"s":"2010","t":"2019-09-04","v":61},{"s":"2010","t":"2019-09-07","v":61.5},{"s":"2010","t":"2019-09-09","v":64.6},{"s":"2010","t":"2019-09-11","v":66},{"s":"2010","t":"2019-09-13","v":71.3},{"s":"2010","t":"2019-09-15","v":74},{"s":"2010","t":"2019-09-16","v":78.7},{"s":"2010","t":"2019-09-17","v":82},{"s":"2010","t":"2019-09-19","v":85},{"s":"2010","t":"2019-09-20","v":82.5},{"s":"2010","t":"2019-09-22","v":82.6},{"s":"2010","t":"2019-09-24","v":81},{"s":"2010","t":"2019-09-26","v":81},{"s":"2010","t":"2019-09-27","v":82},{"s":"2010","t":"2019-09-29","v":86},{"s":"2010","t":"2019-10-01","v":89.3},{"s":"2010","t":"2019-10-02","v":92.4},{"s":"2010","t":"2019-10-03","v":102},{"s":"2010","t":"2019-10-04","v":105},{"s":"2010","t":"2019-10-05","v":107},{"s":"2010","t":"2019-10-06","v":109.5},{"s":"2010","t":"2019-10-08","v":111},{"s":"2010","t":"2019-10-10","v":111},{"s":"2010","t":"2019-10-11","v":114},{"s":"2010","t":"2019-10-12","v":117},{"s":"2010","t":"2019-10-15","v":119.6},{"s":"2010","t":"2019-10-17","v":120},{"s":"2010","t":"2019-10-18","v":121},{"s":"2010","t":"2019-10-20","v":122},{"s":"2010","t":"2019-10-21","v":125},{"s":"2010","t":"2019-10-22","v":127},{"s":"2010","t":"2019-10-23","v":131},{"s":"2010","t":"2019-10-25","v":134},{"s":"2010","t":"2019-10-28","v":134},{"s":"2010","t":"2019-10-29","v":138},{"s":"2010","t":"2019-10-31","v":138.8},{"s":"2010","t":"2019-11-04","v":138.8},{"s":"2010","t":"2019-11-07","v":136.7},{"s":"2010","t":"2019-11-08","v":136.7},{"s":"2010","t":"2019-11-10","v":138.8},{"s":"2010","t":"2019-11-11","v":138.4},{"s":"2010","t":"2019-11-13","v":136.7},{"s":"2010","t":"2019-11-15","v":134}
]},
"encoding": {
  "x": {"field": "t", "type": "temporal",
    "scale": {"type": "utc", "nice": false, "domain": [{"year": 2019, "month": 6, "date": 1, "utc": true}, {"year": 2019, "month": 11, "date": 15, "utc": true}]},
    "axis": {"values": [{"year": 2019, "month": 6, "date": 1, "utc": true}, {"year": 2019, "month": 6, "date": 16, "utc": true}, {"year": 2019, "month": 7, "date": 1, "utc": true}, {"year": 2019, "month": 7, "date": 16, "utc": true}, {"year": 2019, "month": 7, "date": 31, "utc": true}, {"year": 2019, "month": 8, "date": 15, "utc": true}, {"year": 2019, "month": 8, "date": 30, "utc": true}, {"year": 2019, "month": 9, "date": 14, "utc": true}, {"year": 2019, "month": 9, "date": 29, "utc": true}, {"year": 2019, "month": 10, "date": 14, "utc": true}, {"year": 2019, "month": 10, "date": 29, "utc": true}, {"year": 2019, "month": 11, "date": 13, "utc": true}],
      "labelExpr": "utcFormat(datum.value, '%d-%b')", "labelFont": "Liberation Sans", "labelFontSize": 19, "labelColor": "black", "labelPadding": 5, "labelOverlap": false, "labelFlush": false,
      "tickSize": 8, "tickColor": "#868686", "domainColor": "#868686", "domainWidth": 1.3, "grid": false,
      "title": "T ngày", "titleFont": "Liberation Sans Narrow, Arial Narrow, Liberation Sans", "titleFontSize": 20, "titleFontWeight": "normal", "titleColor": "black", "titleX": 1054, "titleY": 74, "titleAlign": "left", "titleBaseline": "middle", "titleAnchor": null}},
  "y": {"field": "v", "type": "quantitative",
    "scale": {"domain": [-20, 339], "nice": false, "zero": false},
    "axis": {"values": [-20, 30, 80, 130, 180, 230, 280, 330], "labelFont": "Liberation Sans", "labelFontSize": 19, "labelColor": "black", "labelPadding": 10, "tickSize": 6, "tickColor": "#868686", "domainColor": "#868686", "domainWidth": 1.3, "grid": false, "labelFlush": false,
      "title": "Mực nước (cm)", "titleFont": "Liberation Sans", "titleFontSize": 18, "titleFontWeight": "bold", "titleColor": "black", "titleAngle": -90, "titleX": -68, "titleY": 282, "titleAlign": "center", "titleBaseline": "middle", "titleAnchor": null}},
  "color": {"field": "s", "type": "nominal",
    "scale": {"domain": ["BĐ1", "BĐ2", "BĐ3", "2019", "2018", "2011", "2000", "Av99-18", "2015", "2010"],
              "range": ["#FFFF00", "#0070C0", "#FF0000", "#0000FF", "#00FF00", "#FF0000", "#FF9900", "#31849B", "#984807", "#B3A2C7"]},
    "legend": {"orient": "none", "legendX": 63, "legendY": 618, "direction": "horizontal", "columns": 10, "title": null,
      "symbolType": "stroke", "symbolSize": 2401, "symbolStrokeWidth": 3, "clipHeight": 13, "gridAlign": "none",
      "labelFont": "Liberation Sans Narrow, Arial Narrow, Liberation Sans", "labelFontSize": 10.5, "labelColor": "black", "labelOffset": 4, "labelLimit": 100,
      "columnPadding": 15, "padding": 16, "strokeColor": "black", "fillColor": "white"}}
},
"layer": [
  {"transform": [{"filter": {"field": "s", "oneOf": ["BĐ1", "BĐ2", "BĐ3"]}}], "mark": {"type": "line", "strokeWidth": 5}},
  {"transform": [{"filter": {"field": "s", "equal": "2019"}}], "mark": {"type": "line", "strokeWidth": 7.5, "strokeCap": "round", "strokeJoin": "round"}},
  {"transform": [{"filter": {"field": "s", "oneOf": ["2018", "2011", "2000"]}}], "mark": {"type": "line", "strokeWidth": 2.2, "strokeJoin": "round"}},
  {"transform": [{"filter": {"field": "s", "equal": "Av99-18"}}], "mark": {"type": "line", "strokeWidth": 6.5, "strokeJoin": "round"}},
  {"transform": [{"filter": {"field": "s", "oneOf": ["2015", "2010"]}}], "mark": {"type": "line", "strokeWidth": 2.2, "strokeJoin": "round"}}
]
}
